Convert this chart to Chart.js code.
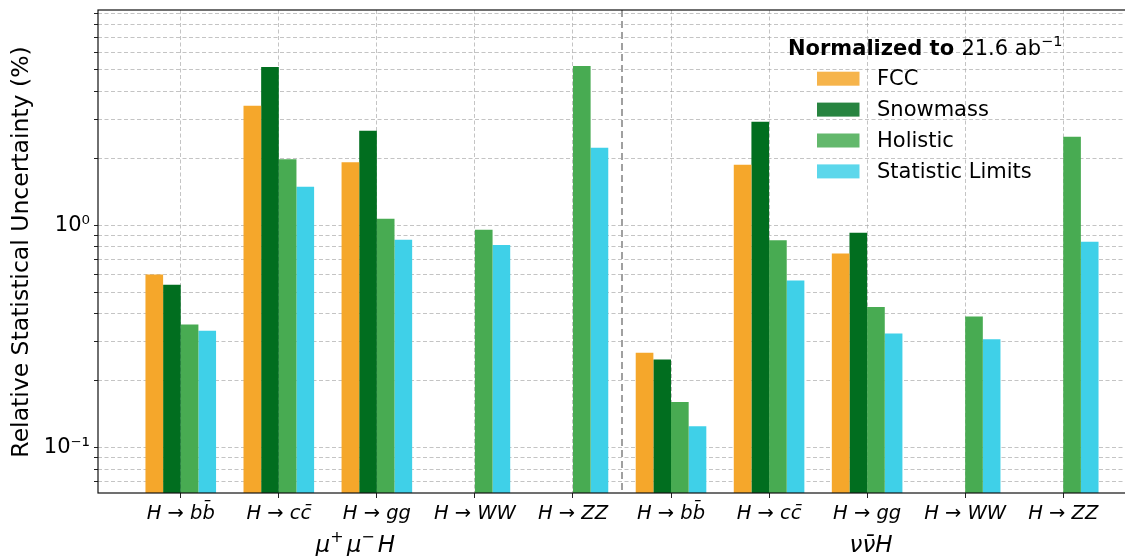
<!DOCTYPE html>
<html>
<head>
<meta charset="utf-8">
<script src="https://cdn.jsdelivr.net/npm/chart.js@4/dist/chart.umd.min.js"></script>
<style>
  html, body { margin: 0; padding: 0; background: #fff; }
  #wrap { width: 1125px; height: 556px; position: relative; }
</style>
</head>
<body>
<div id="wrap"><canvas id="chart" width="1125" height="556"></canvas></div>
<script>
// categories (two production modes x five decay channels)
const channels = ['H → bb̄', 'H → cc̄', 'H → gg', 'H → WW', 'H → ZZ',
                  'H → bb̄', 'H → cc̄', 'H → gg', 'H → WW', 'H → ZZ'];

// relative statistical uncertainty (%), null = not available
const fcc      = [0.60, 3.45, 1.92, null, null, 0.267, 1.87, 0.745, null, null];
const snowmass = [0.54, 5.15, 2.66, null, null, 0.249, 2.92, 0.925, null, null];
const holistic = [0.357, 1.98, 1.07, 0.955, 5.2, 0.160, 0.855, 0.428, 0.388, 2.50];
const statLim  = [0.335, 1.49, 0.86, 0.815, 2.23, 0.1245, 0.564, 0.326, 0.307, 0.843];

const seriesNames = ['FCC', 'Snowmass', 'Holistic', 'Statistic Limits'];
const barColors = ['rgb(245,167,43)', 'rgb(1,110,31)', 'rgb(72,171,82)', 'rgb(63,208,232)'];

// y ticks: every 1..9 x decade in the visible range
const yTicks = [0.07, 0.08, 0.09, 0.1, 0.2, 0.3, 0.4, 0.5, 0.6, 0.7, 0.8, 0.9,
                1, 2, 3, 4, 5, 6, 7, 8, 9];
const yTickLabels = { 0.1: '10⁻¹', 1: '10⁰' };

const FONT = "'DejaVu Sans', sans-serif";

function toPoints(arr) {
    return arr.map((v, i) => ({ x: i, y: v }));
}

// draws a run of text pieces with their own font / vertical offset
function drawPieces(ctx, pieces, x, y, align) {
    let total = 0;
    pieces.forEach(p => { ctx.font = p.font; p.w = ctx.measureText(p.t).width + (p.gap || 0); total += p.w; });
    let cx = align === 'center' ? x - total / 2 : x;
    ctx.textAlign = 'left';
    ctx.textBaseline = 'alphabetic';
    pieces.forEach(p => {
        ctx.font = p.font;
        ctx.fillText(p.t, cx, y + (p.dy || 0));
        cx += p.w;
    });
}

const extras = {
    id: 'extras',
    beforeDatasetsDraw(chart) {
        const { ctx, chartArea, scales } = chart;
        // separator between the two production modes
        const xs = scales.x.getPixelForValue(4.5);
        ctx.save();
        ctx.strokeStyle = '#a0a0a0';
        ctx.lineWidth = 2;
        ctx.setLineDash([7, 4]);
        ctx.beginPath();
        ctx.moveTo(xs, chartArea.top);
        ctx.lineTo(xs, chartArea.bottom);
        ctx.stroke();
        ctx.restore();
    },
    afterDraw(chart) {
        const { ctx, chartArea, scales } = chart;
        ctx.save();
        // frame
        ctx.strokeStyle = '#111';
        ctx.lineWidth = 1.2;
        ctx.strokeRect(chartArea.left, chartArea.top, chartArea.right - chartArea.left + 2, chartArea.bottom - chartArea.top);

        ctx.fillStyle = '#000';
        // y axis title
        ctx.save();
        ctx.translate(22, 252);
        ctx.rotate(-Math.PI / 2);
        ctx.font = '23.5px ' + FONT;
        ctx.textAlign = 'center';
        ctx.textBaseline = 'middle';
        ctx.fillText('Relative Statistical Uncertainty (%)', 0, 0);
        ctx.restore();

        // production mode labels
        const it = 'italic 23px ' + FONT;
        const sup = '16px ' + FONT;
        drawPieces(ctx, [
            { t: 'μ', font: it }, { t: '+', font: sup, dy: -10, gap: 3 },
            { t: 'μ', font: it }, { t: '−', font: sup, dy: -10, gap: 3 },
            { t: 'H', font: it }
        ], scales.x.getPixelForValue(1.78), 552, 'center');
        drawPieces(ctx, [
            { t: 'νν̄', font: it }, { t: 'H', font: it }
        ], scales.x.getPixelForValue(7.04), 552, 'center');

        // legend
        drawPieces(ctx, [
            { t: 'Normalized to ', font: 'bold 21px ' + FONT },
            { t: '21.6 ab', font: '21px ' + FONT },
            { t: '−1', font: '14.5px ' + FONT, dy: -9 }
        ], 788, 55, 'left');
        chart.data.datasets.forEach((ds, i) => {
            const cy = 78.7 + i * 30.9;
            ctx.globalAlpha = 0.85;
            ctx.fillStyle = ds.backgroundColor;
            ctx.fillRect(817, cy - 7, 42.5, 14);
            ctx.globalAlpha = 1;
            ctx.fillStyle = '#000';
            ctx.font = '21px ' + FONT;
            ctx.textAlign = 'left';
            ctx.textBaseline = 'middle';
            ctx.fillText(ds.label, 877, cy + 1);
        });
        ctx.restore();
    }
};

const gridColor = 'rgba(165,165,165,0.65)';

new Chart(document.getElementById('chart'), {
    type: 'bar',
    data: {
        datasets: [fcc, snowmass, holistic, statLim].map((arr, i) => ({
            label: seriesNames[i],
            data: toPoints(arr),
            backgroundColor: barColors[i],
            borderWidth: 0
        }))
    },
    options: {
        responsive: false,
        animation: false,
        events: [],
        layout: { padding: { top: 10, right: 0, left: 0, bottom: 0 } },
        datasets: { bar: { categoryPercentage: 0.72, barPercentage: 1.0 } },
        plugins: { legend: { display: false }, tooltip: { enabled: false } },
        scales: {
            x: {
                type: 'linear',
                bounds: 'data',
                offset: false,
                min: -0.844,
                max: 9.63,
                afterBuildTicks: (scale) => { scale.ticks = channels.map((c, i) => ({ value: i })); },
                afterFit: (scale) => { scale.height = 63; scale.paddingLeft = 0; scale.paddingRight = 0; },
                ticks: {
                    autoSkip: false,
                    maxRotation: 0,
                    padding: 4,
                    color: '#000',
                    font: { family: FONT, size: 19.5, style: 'italic' },
                    callback: (v) => channels[v]
                },
                grid: { offset: false, color: gridColor, lineWidth: 1, tickLength: 5, tickColor: '#222', tickBorderDash: [] },
                border: { display: false, dash: [4, 2.5] }
            },
            y: {
                type: 'logarithmic',
                bounds: 'data',
                min: 0.0624,
                max: 9.29,
                afterBuildTicks: (scale) => { scale.ticks = yTicks.map(v => ({ value: v, major: v in yTickLabels })); },
                afterFit: (scale) => { scale.width = 98; scale.paddingTop = 0; scale.paddingBottom = 0; },
                ticks: {
                    autoSkip: false,
                    padding: 4,
                    color: '#000',
                    font: { family: FONT, size: 21 },
                    callback: (v) => yTickLabels[v] || ''
                },
                grid: { color: gridColor, lineWidth: 1, tickLength: 4, tickColor: '#222', tickBorderDash: [] },
                border: { display: false, dash: [4, 2.5] }
            }
        }
    },
    plugins: [extras]
});
</script>
</body>
</html>
